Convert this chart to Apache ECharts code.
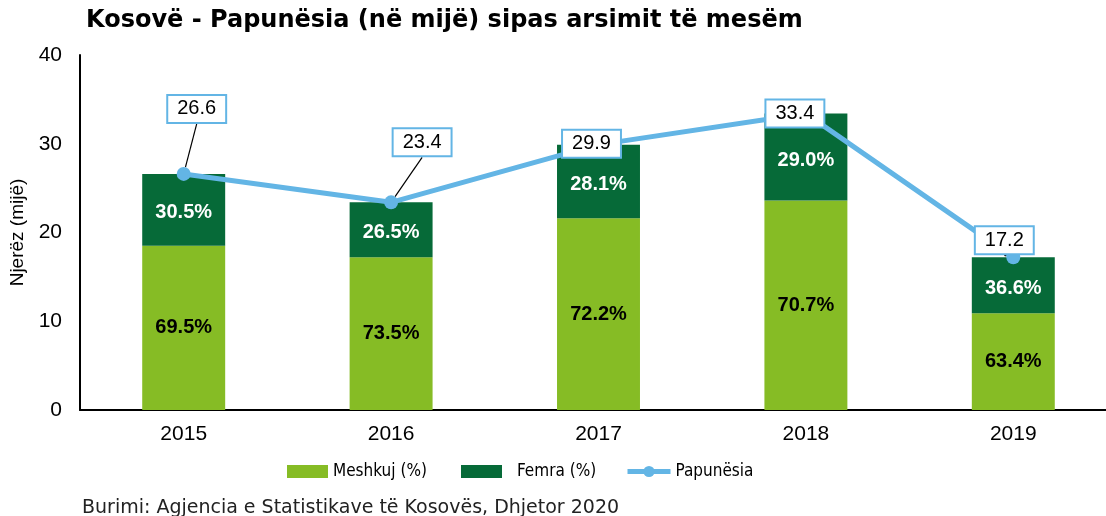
<!DOCTYPE html>
<html>
<head>
<meta charset="utf-8">
<script src="https://cdn.jsdelivr.net/npm/echarts@6/dist/echarts.min.js"></script>
<style>
  html, body { margin: 0; padding: 0; background: #fff; }
  #chart { width: 1106px; height: 516px; }
</style>
</head>
<body>
<div id="chart"></div>
<script>
const years = ['2015', '2016', '2017', '2018', '2019']
const totals = [26.6, 23.4, 29.9, 33.4, 17.2]
const maleValues = [18.5, 17.2, 21.6, 23.6, 10.9]
const femaleValues = [8.1, 6.2, 8.3, 9.8, 6.3]
const malePct = ['69.5%', '73.5%', '72.2%', '70.7%', '63.4%']
const femalePct = ['30.5%', '26.5%', '28.1%', '29.0%', '36.6%']
const yTicks = [0, 10, 20, 30, 40]

// where each total's box sits relative to its point
const boxShift = [[13, -65], [31, -60], [-7, -1], [-11, 0], [-9, -17]]
const showLeader = [true, true, false, false, true]

const lightGreen = '#86bc25'
const darkGreen = '#066a38'
const blue = '#63b5e5'
const arial = "'Liberation Sans', Arial, sans-serif"
const verdana = "'DejaVu Sans', Verdana, sans-serif"
const condensed = "'DejaVu Sans Condensed', 'DejaVu Sans', sans-serif"

const chart = echarts.init(document.getElementById('chart'))

const legendBase = {
  top: 458, itemHeight: 13, itemWidth: 41, icon: 'rect',
  textStyle: { fontFamily: condensed, fontSize: 17, color: '#000' }
}

chart.setOption({
  backgroundColor: '#fff',
  animation: false,
  title: [
    { text: 'Kosovë - Papunësia (në mijë) sipas arsimit të mesëm', left: 86, top: 9, padding: 0,
      textStyle: { fontFamily: verdana, fontSize: 24, fontWeight: 'bold', color: '#000' } },
    { text: 'Burimi: Agjencia e Statistikave të Kosovës, Dhjetor 2020', left: 82, top: 499, padding: 0,
      textStyle: { fontFamily: verdana, fontSize: 19, fontWeight: 'normal', color: '#222' } }
  ],
  legend: [
    { ...legendBase, left: 282, data: ['Meshkuj (%)'] },
    { ...legendBase, left: 456, data: ['Femra (%)'], textStyle: { ...legendBase.textStyle, padding: [0, 0, 0, 10] } },
    { ...legendBase, left: 620, itemWidth: 43, itemHeight: 14, icon: null,
      lineStyle: { width: 5 }, data: ['Papunësia'] }
  ],
  grid: { left: 80, right: -11, top: 55, bottom: 106, outerBoundsMode: 'none', containLabel: false },
  xAxis: {
    type: 'category', data: years,
    axisLine: { lineStyle: { color: '#000', width: 2 } },
    axisTick: { show: false },
    axisLabel: { color: '#000', fontFamily: arial, fontSize: 21, margin: 14 }
  },
  yAxis: {
    type: 'value', min: yTicks[0], max: yTicks[yTicks.length - 1], interval: 10,
    name: 'Njerëz (mijë)', nameLocation: 'middle', nameRotate: 90, nameGap: 45,
    nameTextStyle: { color: '#000', fontFamily: arial, fontSize: 19 },
    axisLine: { show: true, lineStyle: { color: '#000', width: 2 } },
    axisTick: { show: false },
    splitLine: { show: false },
    axisLabel: { color: '#000', fontFamily: arial, fontSize: 21, margin: 18 }
  },
  series: [
    {
      name: 'Meshkuj (%)', type: 'bar', stack: 'total', barWidth: '40%',
      itemStyle: { color: lightGreen },
      data: maleValues,
      label: { show: true, position: 'inside', formatter: p => malePct[p.dataIndex],
        color: '#000', fontFamily: arial, fontSize: 20, fontWeight: 'bold' }
    },
    {
      name: 'Femra (%)', type: 'bar', stack: 'total',
      itemStyle: { color: darkGreen },
      data: femaleValues,
      label: { show: true, position: 'inside', offset: [0, 3], formatter: p => femalePct[p.dataIndex],
        color: '#fff', fontFamily: arial, fontSize: 20, fontWeight: 'bold' }
    },
    {
      name: 'Papunësia', type: 'line', z: 5,
      data: totals.map((v, i) => ({ value: v, labelLine: { show: showLeader[i] } })),
      symbol: 'circle', symbolSize: 14,
      lineStyle: { color: blue, width: 5 },
      itemStyle: { color: blue },
      label: { show: true, position: 'inside', formatter: p => p.value.toFixed(1),
        color: '#000', fontFamily: arial, fontSize: 20,
        backgroundColor: '#fff', borderColor: blue, borderWidth: 2,
        padding: [4, 9, 2, 9] },
      labelLine: { show: true, lineStyle: { color: '#000', width: 1.2 } },
      labelLayout: p => ({ dx: boxShift[p.dataIndex][0], dy: boxShift[p.dataIndex][1] })
    }
  ]
})
</script>
</body>
</html>
